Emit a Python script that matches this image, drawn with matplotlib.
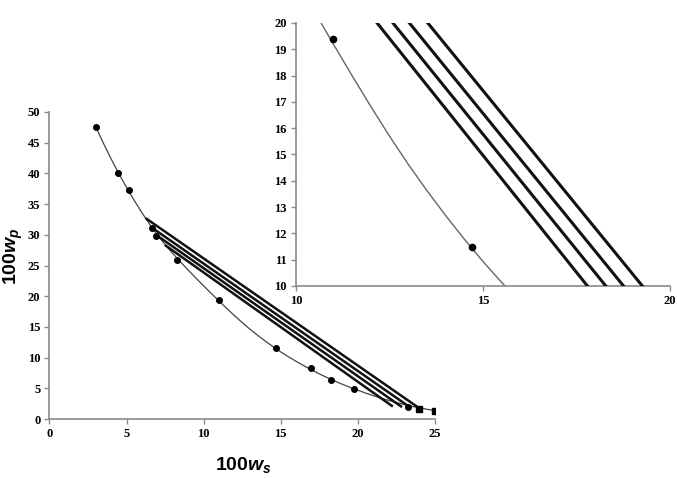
import matplotlib
matplotlib.use("Agg")
import matplotlib.pyplot as plt
from matplotlib.font_manager import FontProperties

# measured points (100 w_s, 100 w_p)
ws_pts = [3.03, 4.44, 5.13, 6.67, 6.93, 8.29, 11.0, 14.70, 16.93, 18.27, 19.76, 23.27]
wp_pts = [47.5, 40.0, 37.35, 31.05, 29.86, 25.84, 19.4, 11.5, 8.25, 6.40, 4.83, 1.90]
ws_sq = [23.98, 25.0]
wp_sq = [1.65, 1.25]

# binodal curve
ws_curve = [3.0, 3.5, 4.0, 4.5, 5.0, 5.5, 6.0, 6.5, 7.0, 7.5, 8.0, 8.5, 9.0, 9.5,
            10.0, 10.5, 11.0, 11.5, 12.0, 12.5, 13.0, 13.5, 14.0, 14.5, 15.0, 15.5,
            16.0, 16.5, 17.0, 17.5, 18.0, 18.5, 19.0, 19.5, 20.0, 20.5, 21.0, 21.5,
            22.0, 22.5, 23.0, 23.5, 24.0, 24.5, 25.0]
wp_curve = [47.6, 44.9, 42.35, 39.95, 37.7, 35.58, 33.58, 31.7, 29.98, 28.4, 26.95, 25.58,
            24.25, 22.95, 21.68, 20.43, 19.2, 18.0, 16.83, 15.7, 14.63, 13.63, 12.68, 11.78,
            10.93, 10.13, 9.38, 8.67, 7.99, 7.35, 6.75, 6.18, 5.65, 5.15, 4.69, 4.23,
            3.8, 3.4, 3.03, 2.68, 2.36, 2.07, 1.81, 1.58, 1.38]

# tie lines: top and bottom ends
tie_top_x = [7.55, 7.1, 6.67, 6.3]
tie_top_y = [28.22, 29.66, 31.12, 32.6]
tie_bot_x = [22.2, 22.8, 23.33, 23.9]
tie_bot_y = [2.15, 2.05, 2.0, 1.9]

plt.rcParams['mathtext.fontset'] = 'custom'
plt.rcParams['mathtext.bf'] = 'Liberation Sans:bold'
plt.rcParams['mathtext.it'] = 'Liberation Sans:bold:italic'
plt.rcParams['mathtext.rm'] = 'Liberation Sans:bold'

spine_col = '#8a8a8a'
tick_fp = FontProperties(family='Liberation Serif', weight='bold', size=9)

fig = plt.figure(figsize=(6.77, 4.78), dpi=100)

def style(ax):
    for s in ['top', 'right']:
        ax.spines[s].set_visible(False)
    for s in ['left', 'bottom']:
        ax.spines[s].set_color(spine_col)
        ax.spines[s].set_linewidth(1.2)
    ax.tick_params(direction='out', length=3.5, width=1.0, color=spine_col, pad=3)
    for lab in ax.get_xticklabels() + ax.get_yticklabels():
        lab.set_fontproperties(tick_fp)

# main plot
ax = fig.add_axes([0.0731, 0.1234, 0.5694, 0.6423])
ax.plot(ws_curve, wp_curve, color='#444444', lw=0.9, zorder=2)
for x0, y0, x1, y1 in zip(tie_top_x, tie_top_y, tie_bot_x, tie_bot_y):
    ax.plot([x0, x1], [y0, y1], color='#111111', lw=1.8, zorder=3)
ax.plot(ws_pts, wp_pts, 'o', color='black', ms=4, zorder=4)
ax.plot(ws_sq, wp_sq, 's', color='black', ms=4, zorder=4)
ax.set_xlim(0, 25)
ax.set_ylim(0, 50)
ax.set_xticks(range(0, 26, 5))
ax.set_yticks(range(0, 51, 5))
style(ax)

fig.text(0.36, 0.027, r'$\mathbf{100}\mathit{w}_{\mathit{s}}$', fontsize=14,
         ha='center', va='center')
fig.text(0.02, 0.465, r'$\mathbf{100}\mathit{w}_{\mathit{p}}$', fontsize=14,
         ha='center', va='center', rotation=90)

# inset zoom
ins = fig.add_axes([0.437, 0.4017, 0.553, 0.5503])
ins.patch.set_alpha(0)
ins.plot(ws_curve, wp_curve, color='#666666', lw=1.0, zorder=2)
for x0, y0, x1, y1 in zip(tie_top_x, tie_top_y, tie_bot_x, tie_bot_y):
    ins.plot([x0, x1], [y0, y1], color='#111111', lw=2.2, zorder=3)
ins.plot(ws_pts, wp_pts, 'o', color='black', ms=4.5, zorder=4)
ins.set_xlim(10, 20)
ins.set_ylim(10, 20)
ins.set_xticks([10, 15, 20])
ins.set_yticks(range(10, 21))
style(ins)

fig.savefig('out.png', dpi=100)
